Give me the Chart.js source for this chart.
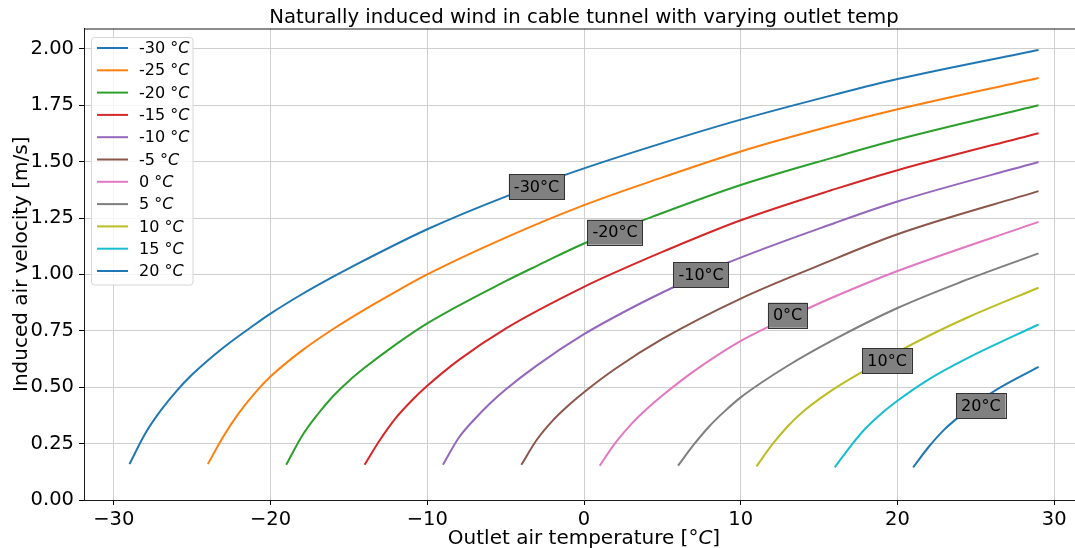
<!DOCTYPE html>
<html><head><meta charset="utf-8">
<script src="https://cdn.jsdelivr.net/npm/chart.js@4.4.0/dist/chart.umd.min.js"></script>
<style>
html,body{margin:0;padding:0;overflow:hidden;background:#fff;width:1075px;height:548px}
#wrap{position:relative;width:1090px;height:548px}
canvas{display:block}
</style></head>
<body><div id="wrap"><canvas id="c" width="1090" height="548"></canvas></div>
<script>
// ---------- data ----------
const seriesNames = ["-30 °C","-25 °C","-20 °C","-15 °C","-10 °C","-5 °C","0 °C","5 °C","10 °C","15 °C","20 °C"];
const seriesColors = ["#1f77b4","#ff7f0e","#2ca02c","#d62728","#9467bd","#8c564b","#e377c2","#7f7f7f","#bcbd22","#17becf","#1f77b4"];

const xM30 = [-29,-28,-27,-26,-25,-23,-21,-20,-18,-16,-15,-10,-5,0,5,10,16,20,29];
const vM30 = [0.159,0.294,0.397,0.483,0.556,0.676,0.778,0.826,0.912,0.99,1.027,1.2,1.345,1.47,1.582,1.686,1.797,1.866,1.995];

const xM25 = [-24,-23,-22,-21,-20,-18,-16,-14,-12,-10,-5,0,5,10,16,20,29];
const vM25 = [0.159,0.283,0.387,0.474,0.547,0.662,0.758,0.844,0.924,1.0,1.163,1.307,1.43,1.545,1.662,1.732,1.871];

const xM20 = [-19,-18,-17,-16,-15,-14,-12,-10,-5,-3,0,5,10,16,20,29];
const vM20 = [0.156,0.283,0.379,0.461,0.528,0.586,0.69,0.783,0.97,1.038,1.137,1.272,1.396,1.52,1.598,1.75];

const xM15 = [-14,-13,-12,-11,-10,-8,-5,0,3,5,10,16,20,29];
const vM15 = [0.156,0.268,0.364,0.44,0.506,0.62,0.76,0.945,1.04,1.1,1.24,1.378,1.462,1.626];

const xM10 = [-9,-8,-7,-6,-5,-3,0,3,6,9,16,20,29];
const vM10 = [0.156,0.275,0.357,0.428,0.49,0.597,0.735,0.85,0.953,1.047,1.228,1.323,1.498];

const xM05 = [-4,-3,-2,-1,0,2,5,10,15,20,29];
const vM05 = [0.156,0.268,0.352,0.419,0.478,0.582,0.714,0.893,1.04,1.178,1.369];

const xP00 = [1,2,3,4,5,7,10,12,14,16,20,29];
const vP00 = [0.152,0.253,0.335,0.403,0.463,0.57,0.705,0.776,0.84,0.902,1.015,1.233];

const xP05 = [6,7,8,9,10,13,16,20,24,29];
const vP05 = [0.152,0.245,0.327,0.395,0.455,0.595,0.713,0.851,0.965,1.093];

const xP10 = [11,12,13,14,15,16,18,20,22,24.5,29];
const vP10 = [0.149,0.245,0.327,0.393,0.447,0.495,0.578,0.656,0.728,0.81,0.941];

const xP15 = [16,17,18,19,20,22,24.5,29];
const vP15 = [0.145,0.238,0.32,0.385,0.44,0.535,0.63,0.778];

const xP20 = [21,22,23,24,26,29];
const vP20 = [0.145,0.236,0.313,0.373,0.475,0.59];

const seriesX = [xM30,xM25,xM20,xM15,xM10,xM05,xP00,xP05,xP10,xP15,xP20];
const seriesV = [vM30,vM25,vM20,vM15,vM10,vM05,vP00,vP05,vP10,vP15,vP20];

// tick labels
const xTicks = [-30,-20,-10,0,10,20,30];
const xTickLabels = ["\u221230","\u221220","\u221210","0","10","20","30"];
const yTicks = [0,0.25,0.5,0.75,1.0,1.25,1.5,1.75,2.0];
const yTickLabels = ["0.00","0.25","0.50","0.75","1.00","1.25","1.50","1.75","2.00"];

// in-plot annotation boxes
const noteText = ["-30°C","-20°C","-10°C","0°C","10°C","20°C"];
const noteX = [-3.03,1.98,7.47,12.99,19.34,25.32];
const noteY = [1.389,1.187,0.999,0.819,0.618,0.418];

const titleText = "Naturally induced wind in cable tunnel with varying outlet temp";
const xTitle = "Outlet air temperature [°";
const yTitle = "Induced air velocity [m/s]";

// ---------- chart ----------
const FONT = "'DejaVu Sans', 'Liberation Sans', sans-serif";

const datasets = seriesNames.map((n,i)=>({
  label:n,
  data: seriesX[i].map((x,j)=>({x:x,y:seriesV[i][j]})),
  borderColor: seriesColors[i],
  backgroundColor: seriesColors[i],
  borderWidth: 2,
  pointRadius: 0,
  cubicInterpolationMode: 'monotone',
  fill:false
}));

function drawParts(ctx, parts, x, y, align, size){
  let total = 0;
  const widths = parts.map(p=>{ctx.font=(p.i?'italic ':'')+size+'px '+FONT; const w=ctx.measureText(p.t).width; total+=w; return w;});
  let cx = align==='center' ? x-total/2 : (align==='right'? x-total : x);
  ctx.textAlign='left';
  parts.forEach((p,k)=>{ctx.font=(p.i?'italic ':'')+size+'px '+FONT; ctx.fillText(p.t,cx,y); cx+=widths[k];});
}

const extras = {
  id:'extras',
  afterDatasetsDraw(chart){
    const ctx=chart.ctx, sx=chart.scales.x, sy=chart.scales.y, ca=chart.chartArea;
    ctx.save();
    // top spine
    ctx.strokeStyle='#1a1a1a'; ctx.lineWidth=1;
    ctx.beginPath();
    ctx.moveTo(ca.left, ca.top+0.5); ctx.lineTo(ca.right, ca.top+0.5);
    ctx.stroke();
    // annotation boxes
    ctx.font='16px '+FONT;
    ctx.textBaseline='middle';
    noteText.forEach((t,i)=>{
      const px=sx.getPixelForValue(noteX[i]), py=sy.getPixelForValue(noteY[i]);
      const w=ctx.measureText(t).width+10, h=25;
      ctx.fillStyle='#808080'; ctx.fillRect(px-w/2,py-h/2,w,h);
      ctx.strokeStyle='#333333'; ctx.lineWidth=1; ctx.strokeRect(Math.round(px-w/2)+0.5,Math.round(py-h/2)+0.5,Math.round(w),h);
      ctx.fillStyle='#000'; ctx.textAlign='center'; ctx.fillText(t,px,py+1);
    });
    // legend
    const lx=91.5, ly=37.5, lw=101.5, lh=247.5, r=3;
    ctx.beginPath();
    ctx.moveTo(lx+r,ly); ctx.lineTo(lx+lw-r,ly); ctx.quadraticCurveTo(lx+lw,ly,lx+lw,ly+r);
    ctx.lineTo(lx+lw,ly+lh-r); ctx.quadraticCurveTo(lx+lw,ly+lh,lx+lw-r,ly+lh);
    ctx.lineTo(lx+r,ly+lh); ctx.quadraticCurveTo(lx,ly+lh,lx,ly+lh-r);
    ctx.lineTo(lx,ly+r); ctx.quadraticCurveTo(lx,ly,lx+r,ly); ctx.closePath();
    ctx.fillStyle='rgba(255,255,255,0.8)'; ctx.fill();
    ctx.strokeStyle='#d6d6d6'; ctx.lineWidth=1; ctx.stroke();
    seriesNames.forEach((n,i)=>{
      const yy=48+i*22.3;
      ctx.strokeStyle=seriesColors[i]; ctx.lineWidth=2;
      ctx.beginPath(); ctx.moveTo(97,yy); ctx.lineTo(128,yy); ctx.stroke();
      ctx.fillStyle='#000'; ctx.textBaseline='middle';
      drawParts(ctx,[{t:n.slice(0,-1),i:false},{t:'C',i:true}],139,yy+1,'left',16);
    });
    ctx.restore();
  },
  afterDraw(chart){
    const ctx=chart.ctx, ca=chart.chartArea;
    ctx.save();
    ctx.fillStyle='#000';
    ctx.textBaseline='alphabetic';
    const cx=(ca.left+ca.right)/2;
    ctx.font='19.7px '+FONT; ctx.textAlign='center';
    ctx.fillText(titleText,cx,23);
    drawParts(ctx,[{t:xTitle,i:false},{t:'C',i:true},{t:']',i:false}],cx,544,'center',20);
    ctx.translate(27,(ca.top+ca.bottom)/2); ctx.rotate(-Math.PI/2);
    ctx.font='20px '+FONT; ctx.textAlign='center';
    ctx.fillText(yTitle,0,0);
    ctx.restore();
  }
};

new Chart(document.getElementById('c'),{
  type:'line',
  data:{datasets:datasets},
  options:{
    responsive:false, animation:false, devicePixelRatio:1,
    layout:{padding:{top:28.5,right:6,left:0,bottom:0}},
    plugins:{legend:{display:false},title:{display:false},tooltip:{enabled:false}},
    elements:{line:{borderCapStyle:'butt'}},
    scales:{
      x:{type:'linear',min:-31.9,max:31.9,
        afterBuildTicks:s=>{s.ticks=xTicks.map(v=>({value:v}));},
        afterFit:s=>{s.height=48; s.paddingLeft=0; s.paddingRight=0;},
        ticks:{callback:(v)=>xTickLabels[xTicks.indexOf(v)],font:{family:FONT,size:19.5},color:'#000',padding:3,maxRotation:0,autoSkip:false},
        grid:{color:'#cfcfcf',lineWidth:1,tickLength:5,tickColor:'#000'},
        border:{color:'#1a1a1a',width:1}},
      y:{type:'linear',min:0,max:2.09,
        afterBuildTicks:s=>{s.ticks=yTicks.map(v=>({value:v}));},
        afterFit:s=>{s.width=84; s.paddingTop=0; s.paddingBottom=0;},
        ticks:{callback:(v)=>yTickLabels[yTicks.indexOf(v)],font:{family:FONT,size:19.5},color:'#000',padding:5,autoSkip:false},
        grid:{color:'#cfcfcf',lineWidth:1,tickLength:5,tickColor:'#000'},
        border:{color:'#1a1a1a',width:1}}
    }
  },
  plugins:[extras]
});
</script>
</body></html>
